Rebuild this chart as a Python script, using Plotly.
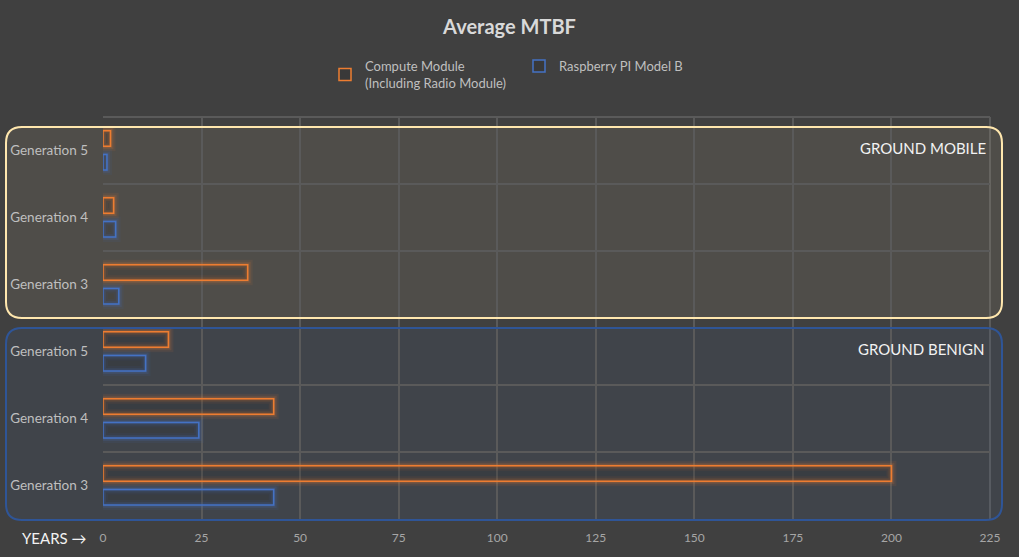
import plotly.graph_objects as go

# ---- data (bottom to top on the chart) ----
environments = ["GROUND BENIGN", "GROUND BENIGN", "GROUND BENIGN",
                "GROUND MOBILE", "GROUND MOBILE", "GROUND MOBILE"]
generations = ["Generation 3", "Generation 4", "Generation 5",
               "Generation 3", "Generation 4", "Generation 5"]
compute_module = [200.0, 43.3, 16.6, 36.7, 2.7, 1.9]
raspberry_pi_b = [43.3, 24.3, 10.8, 4.0, 3.2, 1.0]
series_names = ["Compute Module<br>(Including Radio Module)", "Raspberry PI Model B"]
x_ticks = [0, 25, 50, 75, 100, 125, 150, 175, 200, 225]

ORANGE = "#ED7D31"
BLUE = "#4472C4"
BG = "#404040"
GRID = "#5A5A5A"

positions = list(range(len(generations)))

# plot area in pixels (for decorative shapes)
L, R, T, B = 103, 990, 117, 519
W, H = R - L, B - T


def px(xp):
    return (xp - L) / W


def py(yp):
    return (B - yp) / H


def rounded_rect(x0, y0, x1, y1, r):
    p = []
    p.append(f"M {px(x0 + r)} {py(y0)}")
    p.append(f"L {px(x1 - r)} {py(y0)}")
    p.append(f"Q {px(x1)} {py(y0)} {px(x1)} {py(y0 + r)}")
    p.append(f"L {px(x1)} {py(y1 - r)}")
    p.append(f"Q {px(x1)} {py(y1)} {px(x1 - r)} {py(y1)}")
    p.append(f"L {px(x0 + r)} {py(y1)}")
    p.append(f"Q {px(x0)} {py(y1)} {px(x0)} {py(y1 - r)}")
    p.append(f"L {px(x0)} {py(y0 + r)}")
    p.append(f"Q {px(x0)} {py(y0)} {px(x0 + r)} {py(y0)}")
    p.append("Z")
    return " ".join(p)


fig = go.Figure()

bar_w = 0.23
specs = [
    (series_names[0], compute_module, ORANGE, "237,125,49", 0.065),
    (series_names[1], raspberry_pi_b, BLUE, "68,114,196", -0.29),
]

# glow layers
for name, vals, col, rgb, off in specs:
    for lw, a in [(10, 0.08), (6, 0.14), (3, 0.2)]:
        fig.add_trace(go.Bar(
            y=positions, x=vals, orientation="h", offset=off, width=bar_w,
            marker=dict(color="rgba(0,0,0,0)", line=dict(color=f"rgba({rgb},{a})", width=lw)),
            showlegend=False, hoverinfo="skip"))

# main bars
for name, vals, col, rgb, off in specs:
    fig.add_trace(go.Bar(
        y=positions, x=vals, orientation="h", offset=off, width=bar_w, name=name,
        marker=dict(color="rgba(0,0,0,0.10)", line=dict(color=col, width=1.5))))

shapes = [
    # right edge and top edge grid lines
    dict(type="line", xref="paper", yref="paper", x0=1, x1=1, y0=0, y1=1,
         layer="below", line=dict(color=GRID, width=2)),
    dict(type="line", xref="paper", yref="paper", x0=0, x1=1, y0=1, y1=1,
         layer="below", line=dict(color=GRID, width=2)),
    # Ground mobile box
    dict(type="path", xref="paper", yref="paper", layer="below",
         path=rounded_rect(6, 127, 1002, 318, 16),
         fillcolor="rgba(255,235,180,0.08)", line=dict(width=0)),
    dict(type="path", xref="paper", yref="paper", layer="above",
         path=rounded_rect(6, 127, 1002, 318, 16),
         fillcolor="rgba(0,0,0,0)", line=dict(color="#FFE7AE", width=2)),
    # Ground benign box
    dict(type="path", xref="paper", yref="paper", layer="below",
         path=rounded_rect(6, 328, 1002, 520, 16),
         fillcolor="rgba(68,114,196,0.08)", line=dict(width=0)),
    dict(type="path", xref="paper", yref="paper", layer="above",
         path=rounded_rect(6, 328, 1002, 520, 16),
         fillcolor="rgba(0,0,0,0)", line=dict(color="#2F5597", width=2)),
]

annotations = [
    dict(text="GROUND MOBILE", xref="paper", yref="paper", x=px(988), y=py(148),
         xanchor="right", yanchor="middle", showarrow=False,
         font=dict(size=15, color="#F2F2F2", family="Lato")),
    dict(text="GROUND BENIGN", xref="paper", yref="paper", x=px(986), y=py(349),
         xanchor="right", yanchor="middle", showarrow=False,
         font=dict(size=15, color="#F2F2F2", family="Lato")),
    dict(text="YEARS →", xref="paper", yref="paper", x=px(20), y=py(538),
         xanchor="left", yanchor="middle", showarrow=False,
         font=dict(size=15, color="#F2F2F2", family="Lato")),
]

fig.update_layout(
    width=1019, height=557,
    paper_bgcolor=BG, plot_bgcolor=BG,
    margin=dict(l=L, r=1019 - R, t=T, b=557 - B, pad=0, autoexpand=False),
    barmode="overlay",
    font=dict(family="Lato", color="#BFBFBF", size=13),
    title=dict(text="<b>Average MTBF</b>", x=0.5, xanchor="center", y=1 - 27 / 557,
               yanchor="middle", font=dict(size=20, color="#D9D9D9", family="Lato")),
    legend=dict(orientation="h", x=px(325), xanchor="left", y=py(51), yanchor="top",
                font=dict(size=13, color="#BFBFBF"), bgcolor="rgba(0,0,0,0)",
                entrywidth=149, entrywidthmode="pixels", traceorder="normal"),
    shapes=shapes,
    annotations=annotations,
    xaxis=dict(range=[0, 225], tickvals=x_ticks, showgrid=True, gridcolor=GRID,
               gridwidth=2, zeroline=False, showline=False, ticks="", automargin=False,
               tickfont=dict(size=12, color="#A6A6A6"), ticklabelstandoff=10),
    yaxis=dict(range=[-0.5, 5.5], tickvals=positions, ticktext=generations,
               showgrid=False, zeroline=False, showline=False, ticks="", automargin=False,
               tickfont=dict(size=13.5, color="#BFBFBF"), ticklabelstandoff=14,
               minor=dict(tick0=0.5, dtick=1, showgrid=True, gridcolor=GRID,
                          gridwidth=2, ticks="")),
)

fig.write_html("out.html")
